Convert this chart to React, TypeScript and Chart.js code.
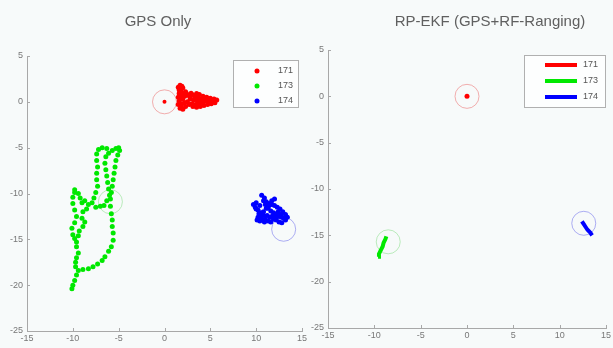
import React, { useEffect, useRef } from 'react';
import { Chart, registerables } from 'chart.js';

Chart.register(...registerables);

const FONT = "'Liberation Sans', Arial, sans-serif";
const BG = '#f7fafa';

const X_TICKS = [-15, -10, -5, 0, 5, 10, 15];
const Y_TICKS = [-25, -20, -15, -10, -5, 0, 5];

const TITLE_LEFT = 'GPS Only';
const TITLE_RIGHT = 'RP-EKF (GPS+RF-Ranging)';

const SERIES_IDS = ['171', '173', '174'];
const SERIES_COLORS = ['#ff0000', '#00e800', '#0000ff'];
const CIRCLE_COLORS = ['rgba(235,110,110,0.55)', 'rgba(110,215,110,0.45)', 'rgba(110,110,235,0.55)'];

// GPS only – vehicle 171
const GPS_171_X = [1.5, 1.7, 2.0, 1.8, 1.6, 1.5, 1.6, 1.5, 1.7, 2.0, 2.3, 2.2, 2.0, 2.2, 2.6, 3.0, 3.4, 3.8, 4.2, 4.6, 5.0, 5.4, 5.7, 5.5, 5.1, 4.7, 4.3, 3.9, 3.5, 3.1, 2.7, 2.5, 2.8, 3.2, 3.6, 4.0, 4.4, 4.8, 2.3, 2.1, 1.6, 1.9, 1.8, 1.7, 1.9, 1.8, 2.4, 2.8, 3.3, 3.7, 4.1, 4.5, 4.9, 5.3, 3.0, 3.4, 3.8, 4.2, 2.9, 3.5];
const GPS_171_Y = [1.6, 1.8, 1.5, 1.2, 0.9, 0.5, 0.1, -0.3, -0.7, -0.8, -0.5, -0.1, 0.3, 0.6, 0.7, 0.8, 0.7, 0.8, 0.6, 0.5, 0.4, 0.3, 0.2, -0.1, -0.2, -0.3, -0.4, -0.5, -0.6, -0.5, -0.3, 0.0, 0.3, 0.2, 0.1, 0.2, 0.1, 0.0, 1.1, 0.9, 1.3, 1.7, 0.7, 0.3, -0.2, -0.5, 0.9, 0.6, 0.5, 0.4, 0.4, 0.3, 0.2, 0.1, -0.2, -0.3, -0.2, -0.1, 0.95, 0.9];

// GPS only – vehicle 173
const GPS_173_X = [-10.1, -10.0, -9.8, -9.6, -9.4, -8.9, -8.3, -7.8, -7.3, -6.8, -6.5, -6.1, -5.8, -5.6, -5.6, -5.7, -5.7, -5.8, -5.9, -5.9, -5.8, -5.7, -5.6, -5.5, -5.4, -5.3, -5.1, -4.9, -5.0, -5.3, -5.7, -6.1, -6.4, -6.5, -6.4, -6.3, -6.2, -6.1, -6.0, -6.3, -6.6, -7.0, -7.5, -7.9, -7.7, -7.5, -7.3, -7.4, -7.4, -7.3, -7.4, -7.4, -7.2, -6.8, -6.3, -9.8, -9.4, -9.2, -9.0, -8.7, -8.3, -8.5, -8.9, -9.0, -8.7, -8.9, -9.3, -9.4, -9.8, -10.0, -10.1, -9.8, -9.6, -9.8, -10.0, -10.0, -9.8, -9.6, -9.6, -9.4, -9.6, -9.7, -9.7];
const GPS_173_Y = [-20.4, -20.0, -19.5, -18.9, -18.4, -18.3, -18.2, -18.0, -17.7, -17.3, -16.9, -16.3, -15.8, -15.1, -14.3, -13.6, -12.9, -12.2, -11.4, -10.6, -9.9, -9.2, -8.5, -7.8, -7.1, -6.4, -5.8, -5.3, -5.0, -5.1, -5.3, -5.6, -6.0, -6.7, -7.4, -8.1, -8.8, -9.5, -10.2, -10.8, -11.3, -11.4, -11.5, -11.0, -10.5, -9.9, -9.2, -8.5, -7.8, -7.1, -6.4, -5.7, -5.2, -5.0, -5.1, -9.6, -10.0, -10.5, -11.0, -10.8, -11.2, -11.7, -12.0, -12.7, -13.1, -13.6, -14.1, -14.6, -14.9, -14.5, -13.8, -13.2, -12.5, -11.8, -11.1, -10.4, -9.9, -15.3, -15.8, -16.5, -17.0, -17.5, -18.0];

// GPS only – vehicle 174
const GPS_174_X = [10.6, 10.9, 11.1, 11.4, 11.7, 12.0, 12.3, 12.6, 12.9, 13.2, 13.4, 9.7, 9.9, 10.2, 10.5, 10.8, 11.0, 11.3, 11.6, 11.9, 12.2, 12.5, 12.8, 10.2, 10.5, 10.8, 11.1, 11.4, 11.7, 12.0, 10.0, 10.4, 10.8, 11.0, 11.3, 11.6, 11.9, 12.2, 12.5, 12.8, 10.0, 10.3, 10.6, 10.9, 11.2, 11.5, 11.8, 12.1, 12.4, 12.7, 13.0, 13.2, 10.1, 10.4];
const GPS_174_Y = [-10.2, -10.5, -10.9, -11.1, -11.2, -11.3, -11.5, -11.7, -12.0, -12.3, -12.6, -11.2, -11.5, -11.8, -12.1, -12.4, -12.8, -13.0, -13.1, -12.8, -12.9, -13.1, -13.2, -12.6, -12.5, -12.0, -11.6, -11.3, -10.8, -10.6, -11.0, -11.3, -10.8, -11.2, -11.6, -11.9, -12.1, -12.3, -12.5, -12.6, -11.7, -12.2, -12.8, -13.1, -12.4, -12.6, -12.4, -12.6, -12.0, -12.3, -12.7, -12.9, -12.9, -13.0];

// RP-EKF tracks
const EKF_171_X = [0];
const EKF_171_Y = [0];
const EKF_173_X = [-9.6, -9.5, -9.3, -9.1, -9.0, -8.8, -8.7];
const EKF_173_Y = [-17.3, -17.0, -16.6, -16.2, -15.8, -15.4, -15.1];
const EKF_174_X = [12.4, 12.6, 12.8, 13.0, 13.3, 13.5];
const EKF_174_Y = [-13.5, -13.8, -14.1, -14.4, -14.7, -15.0];

// reference circles
const CIRCLE_GPS_X = [0, -5.9, 13.0];
const CIRCLE_GPS_Y = [0, -10.9, -13.9];
const CIRCLE_EKF_X = [0, -8.5, 12.6];
const CIRCLE_EKF_Y = [0, -15.7, -13.7];
const TRUE_171_X = [0];
const TRUE_171_Y = [0];

const zip = (xs: number[], ys: number[]) => xs.map((x, i) => ({ x, y: ys[i] }));

const decor = {
  id: 'panelDecor',
  beforeDraw(chart: any) {
    const ctx = chart.ctx;
    ctx.save();
    ctx.fillStyle = BG;
    ctx.fillRect(0, 0, chart.width, chart.height);
    ctx.restore();
  },
  afterDraw(chart: any, _a: any, o: any) {
    const ctx = chart.ctx;
    const { left, bottom } = chart.chartArea;
    ctx.save();
    // inward tick marks
    ctx.strokeStyle = '#a8a8a8';
    ctx.lineWidth = 1;
    ctx.beginPath();
    X_TICKS.forEach((v) => {
      const px = Math.round(chart.scales.x.getPixelForValue(v)) + 0.5;
      ctx.moveTo(px, bottom);
      ctx.lineTo(px, bottom - 3);
    });
    Y_TICKS.forEach((v) => {
      const py = Math.round(chart.scales.y.getPixelForValue(v)) + 0.5;
      ctx.moveTo(left, py);
      ctx.lineTo(left + 3, py);
    });
    ctx.stroke();
    // title
    ctx.font = `15px ${FONT}`;
    ctx.fillStyle = '#606060';
    ctx.textAlign = 'center';
    ctx.textBaseline = 'middle';
    ctx.fillText(o.title, o.titleX, o.titleY);
    // legend
    const L = o.legend;
    ctx.fillStyle = '#fdfefe';
    ctx.fillRect(L.left, L.top, L.width, L.height);
    ctx.strokeStyle = '#b0b0b0';
    ctx.strokeRect(L.left + 0.5, L.top + 0.5, L.width, L.height);
    const items = chart.data.datasets.filter((d: any) => SERIES_IDS.includes(d.label));
    items.forEach((d: any, i: number) => {
      const y = L.firstRowY + i * L.rowGap;
      if (L.style === 'dot') {
        ctx.beginPath();
        ctx.arc(L.markerX, y, 2.5, 0, Math.PI * 2);
        ctx.fillStyle = d.backgroundColor;
        ctx.fill();
      } else {
        ctx.strokeStyle = d.borderColor;
        ctx.lineWidth = 4;
        ctx.beginPath();
        ctx.moveTo(L.markerX, y);
        ctx.lineTo(L.markerX + L.lineLen, y);
        ctx.stroke();
      }
      ctx.fillStyle = '#555';
      ctx.font = `9px ${FONT}`;
      ctx.textAlign = 'left';
      ctx.textBaseline = 'middle';
      ctx.fillText(d.label, L.textX, y);
    });
    ctx.restore();
  },
};

function axes(xHeight: number, yWidth: number) {
  const common = {
    type: 'linear',
    grid: { drawOnChartArea: false, drawTicks: false },
    border: { color: '#a8a8a8' },
  };
  return {
    x: {
      ...common,
      min: -15,
      max: 15,
      afterBuildTicks: (s: any) => {
        s.ticks = X_TICKS.map((v) => ({ value: v }));
      },
      afterFit: (s: any) => {
        s.height = xHeight;
        s.paddingLeft = 0;
        s.paddingRight = 0;
      },
      ticks: { color: '#777', font: { size: 9, family: FONT }, padding: 2, maxRotation: 0, autoSkip: false },
    },
    y: {
      ...common,
      min: -25,
      max: 5,
      afterBuildTicks: (s: any) => {
        s.ticks = Y_TICKS.map((v) => ({ value: v }));
      },
      afterFit: (s: any) => {
        s.width = yWidth;
        s.paddingTop = 0;
        s.paddingBottom = 0;
      },
      ticks: { color: '#777', font: { size: 9, family: FONT }, padding: 4, autoSkip: false },
    },
  };
}

function circleDatasets(xs: number[], ys: number[]) {
  return xs.map((x, i) => ({
    label: '',
    data: [{ x, y: ys[i] }],
    pointRadius: 12,
    pointBackgroundColor: 'rgba(0,0,0,0)',
    pointBorderColor: CIRCLE_COLORS[i],
    pointBorderWidth: 1,
    showLine: false,
    order: 5,
  }));
}

function pointSet(label: string, color: string, xs: number[], ys: number[]) {
  return {
    label,
    data: zip(xs, ys),
    backgroundColor: color,
    borderColor: color,
    pointRadius: 2.5,
    pointBorderWidth: 0,
    showLine: false,
    order: 1,
  };
}

function lineSet(label: string, color: string, xs: number[], ys: number[]) {
  return {
    label,
    data: zip(xs, ys),
    backgroundColor: color,
    borderColor: color,
    borderWidth: 4,
    pointRadius: xs.length === 1 ? 2.5 : 0,
    pointBorderWidth: 0,
    showLine: true,
    order: 1,
  };
}

export default function App() {
  const leftRef = useRef<HTMLCanvasElement | null>(null);
  const rightRef = useRef<HTMLCanvasElement | null>(null);

  useEffect(() => {
    const left = new Chart(leftRef.current as HTMLCanvasElement, {
      type: 'scatter',
      data: {
        datasets: [
          pointSet(SERIES_IDS[0], SERIES_COLORS[0], GPS_171_X, GPS_171_Y),
          pointSet(SERIES_IDS[1], SERIES_COLORS[1], GPS_173_X, GPS_173_Y),
          pointSet(SERIES_IDS[2], SERIES_COLORS[2], GPS_174_X, GPS_174_Y),
          { ...pointSet('', SERIES_COLORS[0], TRUE_171_X, TRUE_171_Y), pointRadius: 2 },
          ...circleDatasets(CIRCLE_GPS_X, CIRCLE_GPS_Y),
        ] as any,
      },
      options: {
        responsive: false,
        animation: false,
        devicePixelRatio: 1,
        layout: { autoPadding: false, padding: { top: 56, right: 8, left: 0, bottom: 0 } },
        plugins: {
          legend: { display: false },
          tooltip: { enabled: false },
          panelDecor: {
            title: TITLE_LEFT,
            titleX: 158,
            titleY: 22,
            legend: { left: 233, top: 60, width: 65, height: 47, firstRowY: 71, rowGap: 15, markerX: 257, textX: 278, style: 'dot', lineLen: 0 },
          },
        } as any,
        scales: axes(17, 27) as any,
      },
      plugins: [decor],
    });

    const right = new Chart(rightRef.current as HTMLCanvasElement, {
      type: 'scatter',
      data: {
        datasets: [
          lineSet(SERIES_IDS[0], SERIES_COLORS[0], EKF_171_X, EKF_171_Y),
          lineSet(SERIES_IDS[1], SERIES_COLORS[1], EKF_173_X, EKF_173_Y),
          lineSet(SERIES_IDS[2], SERIES_COLORS[2], EKF_174_X, EKF_174_Y),
          ...circleDatasets(CIRCLE_EKF_X, CIRCLE_EKF_Y),
        ] as any,
      },
      options: {
        responsive: false,
        animation: false,
        devicePixelRatio: 1,
        layout: { autoPadding: false, padding: { top: 50, right: 7, left: 0, bottom: 0 } },
        plugins: {
          legend: { display: false },
          tooltip: { enabled: false },
          panelDecor: {
            title: TITLE_RIGHT,
            titleX: 180,
            titleY: 22,
            legend: { left: 214, top: 55, width: 81, height: 52, firstRowY: 65, rowGap: 16, markerX: 235, textX: 273, style: 'line', lineLen: 32 },
          },
        } as any,
        scales: axes(20, 18) as any,
      },
      plugins: [decor],
    });

    return () => {
      left.destroy();
      right.destroy();
    };
  }, []);

  return (
    <div style={{ position: 'fixed', left: 0, top: 0, width: 613, height: 348, background: BG, overflow: 'hidden' }}>
      <canvas ref={leftRef} width={310} height={348} style={{ position: 'absolute', left: 0, top: 0, width: 310, height: 348 }} />
      <canvas ref={rightRef} width={303} height={348} style={{ position: 'absolute', left: 310, top: 0, width: 303, height: 348 }} />
    </div>
  );
}
